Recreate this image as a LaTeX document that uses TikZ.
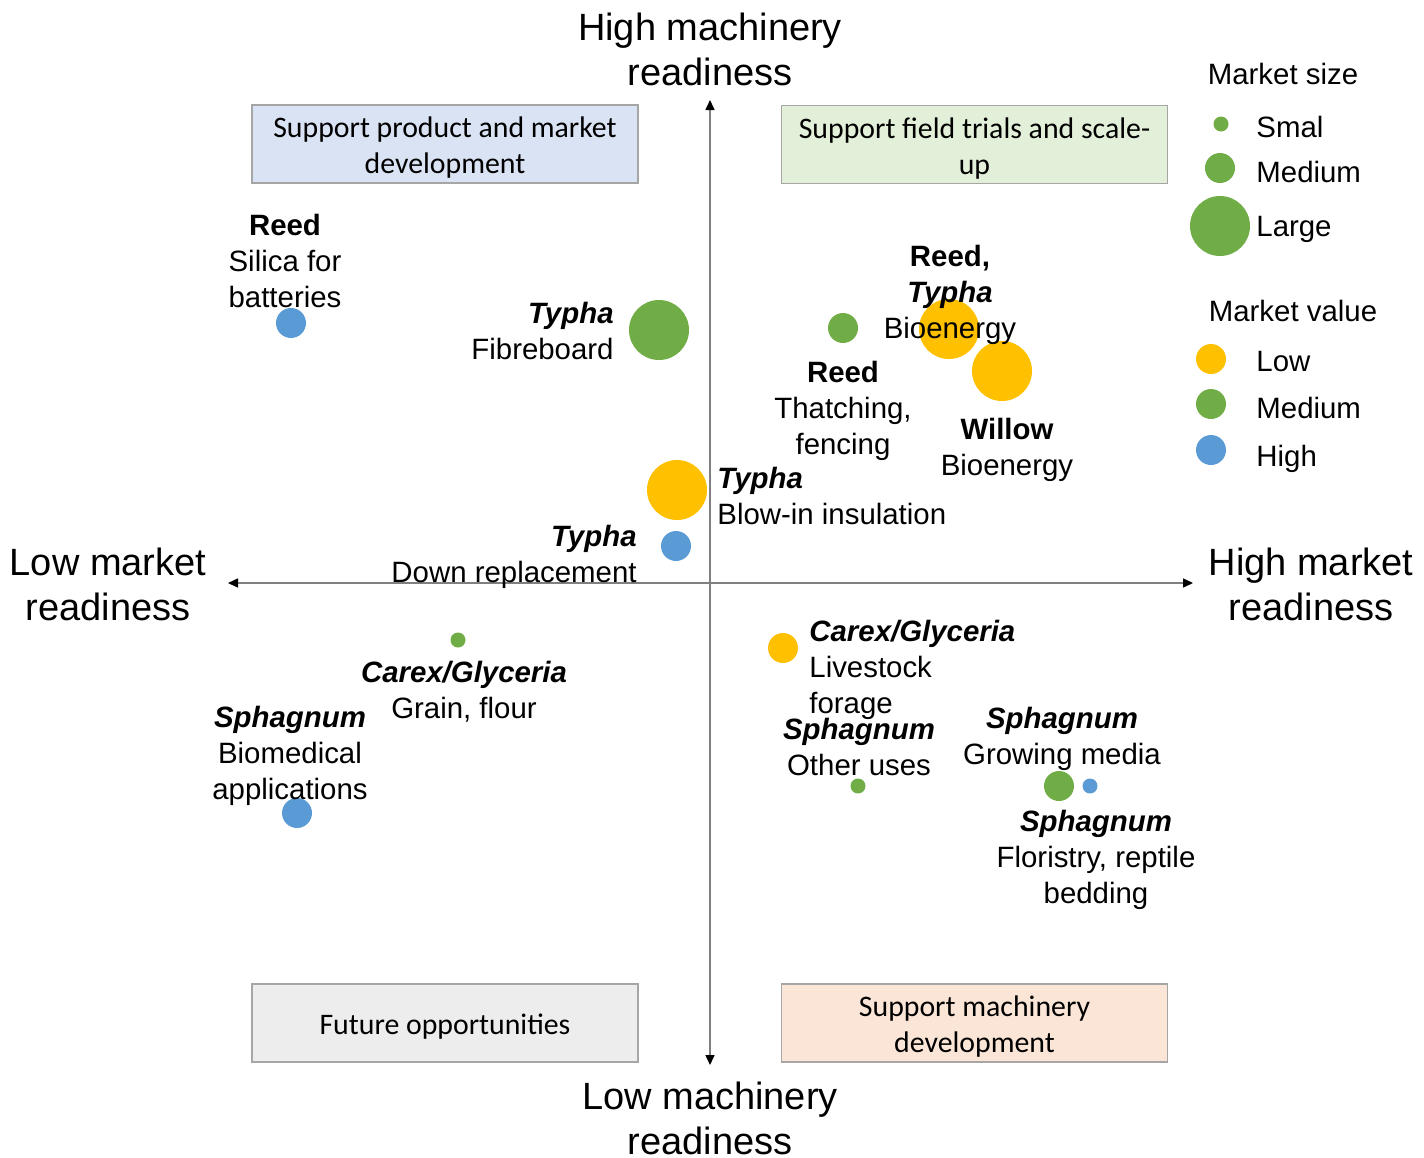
\documentclass[tikz,border=0pt]{standalone}
\usepackage{fontspec}
\setmainfont{Liberation Sans}
\newfontfamily\boxfont{Carlito}
\usetikzlibrary{arrows.meta}
\definecolor{lowval}{HTML}{FFC000}
\definecolor{medval}{HTML}{70AD47}
\definecolor{highval}{HTML}{5B9BD5}
\definecolor{axisgray}{HTML}{808080}
\definecolor{boxline}{HTML}{A6A6A6}
\definecolor{boxblue}{HTML}{DAE3F3}
\definecolor{boxgreen}{HTML}{E2F0D9}
\definecolor{boxgray}{HTML}{EDEDED}
\definecolor{boxorange}{HTML}{FBE5D6}
\def \SmallSize {7.5pt}
\def \MediumSize {15pt}
\def \LargeSize {30pt}
\tikzstyle{rdaxis}=[
  draw=axisgray,
  line width=0.75pt,
  {Triangle[length=5pt,width=4.5pt,color=black]}-{Triangle[length=5pt,width=4.5pt,color=black]}
]
\tikzstyle{axislabel}=[
  align=center,
  inner sep=0pt,
  font=\fontsize{19}{22.5}\selectfont
]
\tikzstyle{quadrant}=[
  draw=boxline,
  line width=0.6pt,
  rectangle,
  minimum width=193pt,
  minimum height=39pt,
  inner sep=0pt
]
\tikzstyle{quadtext}=[
  align=center,
  inner sep=0pt,
  yshift=-2pt,
  font=\boxfont\fontsize{14.9}{18}\selectfont
]
\tikzstyle{bubble}=[
  circle,
  inner sep=0pt
]
\tikzstyle{plant}=[
  align=center,
  inner sep=0pt,
  font=\fontsize{14.7}{18}\selectfont
]

\begin{document}
\begin{tikzpicture}[x=0.5pt, y=-0.5pt]
          \useasboundingbox (0,0) rectangle (1424,1157);

          % axes
          \coordinate (top) at (710,100);
          \coordinate (bot) at (710,1065);
          \coordinate (lft) at (228,583);
          \coordinate (rgt) at (1193,583);
          \draw[rdaxis] (bot) -- (top);
          \draw[rdaxis] (lft) -- (rgt);

          \node[axislabel] (hmach) at (710,49) {High machinery\\readiness};
          \node[axislabel] (lmach) at (710,1118) {Low machinery\\readiness};
          \node[axislabel] (lmark) at (108,584) {Low market\\readiness};
          \node[axislabel] (hmark) at (1311,584) {High market\\readiness};

          % quadrants
          \node[quadrant, fill=boxblue] (q1) at (445,144) {};
          \node[quadrant, fill=boxgreen] (q2) at (974.5,144.5) {};
          \node[quadrant, fill=boxgray] (q3) at (445,1023) {};
          \node[quadrant, fill=boxorange] (q4) at (974.5,1023) {};
          \node[quadtext] (q1t) at (q1) {Support product and market\\development};
          \node[quadtext] (q2t) at (q2) {Support field trials and scale-\\up};
          \node[quadtext] (q3t) at (q3) {Future opportunities};
          \node[quadtext] (q4t) at (q4) {Support machinery\\development};

          % bubbles
          \node[bubble, fill=highval, minimum size=\MediumSize] (b1) at (291,323) {};
          \node[bubble, fill=medval, minimum size=\LargeSize] (b2) at (659,330) {};
          \node[bubble, fill=medval, minimum size=\MediumSize] (b3) at (843,328) {};
          \node[bubble, fill=lowval, minimum size=\LargeSize] (b4) at (949,329) {};
          \node[bubble, fill=lowval, minimum size=\LargeSize] (b5) at (1002,371) {};
          \node[bubble, fill=lowval, minimum size=\LargeSize] (b6) at (677,490) {};
          \node[bubble, fill=highval, minimum size=\MediumSize] (b7) at (676,546) {};
          \node[bubble, fill=medval, minimum size=\SmallSize] (b8) at (458,640) {};
          \node[bubble, fill=highval, minimum size=\MediumSize] (b9) at (297,813) {};
          \node[bubble, fill=lowval, minimum size=\MediumSize] (b10) at (783,648) {};
          \node[bubble, fill=medval, minimum size=\SmallSize] (b11) at (858,786) {};
          \node[bubble, fill=medval, minimum size=\MediumSize] (b12) at (1059,786) {};
          \node[bubble, fill=highval, minimum size=\SmallSize] (b13) at (1090,786) {};

          % texts
          \node[plant] (t1) at (285,261) {\textbf{Reed}\\Silica for\\batteries};
          \node[plant, anchor=east, align=right] (t2) at (614,330.5) {\textbf{\textit{Typha}}\\Fibreboard};
          \node[plant] (t3) at (950,294.5) {\textbf{Reed,}\\\textbf{\textit{Typha}}\\Bioenergy};
          \node[plant] (t4) at (843,411) {\textbf{Reed}\\Thatching,\\fencing};
          \node[plant] (t5) at (1007,450) {\textbf{Willow}\\Bioenergy};
          \node[plant, anchor=west, align=left] (t6) at (717,496) {\textbf{\textit{Typha}}\\Blow-in insulation};
          \node[plant, anchor=east, align=right] (t7) at (637,557) {\textbf{\textit{Typha}}\\Down replacement};
          \node[plant] (t8) at (464,692) {\textbf{\textit{Carex/Glyceria}}\\Grain, flour};
          \node[plant] (t9) at (290,756) {\textbf{\textit{Sphagnum}}\\Biomedical\\applications};
          \node[plant, anchor=west, align=left] (t10) at (809,670) {\textbf{\textit{Carex/Glyceria}}\\Livestock\\forage};
          \node[plant] (t11) at (859,747) {\textbf{\textit{Sphagnum}}\\Other uses};
          \node[plant] (t12) at (1062,739) {\textbf{\textit{Sphagnum}}\\Growing media};
          \node[plant] (t13) at (1096,860) {\textbf{\textit{Sphagnum}}\\Floristry, reptile\\bedding};

          % legend
          \node[plant] (size) at (1283,74) {Market size};
          \foreach \n/\x/\y/\ty/\s/\t in {s/1221/124/127/\SmallSize/Smal, m/1220/168/172/\MediumSize/Medium, l/1220/226/229/\LargeSize/Large}{
            \node[bubble, fill=medval, minimum size=\s] (size\n) at (\x,\y) {};
            \node[plant, anchor=west] (sizet\n) at (1256,\ty) {\t};
          }
          \node[plant] (value) at (1293,311) {Market value};
          \foreach \c/\y/\ty/\t in {lowval/359/362/Low, medval/404/408/Medium, highval/450/459/High}{
            \node[bubble, fill=\c, minimum size=\MediumSize] (val\c) at (1211,\y) {};
            \node[plant, anchor=west] (valt\c) at (1256,\ty) {\t};
          }
        \end{tikzpicture}
\end{document}
